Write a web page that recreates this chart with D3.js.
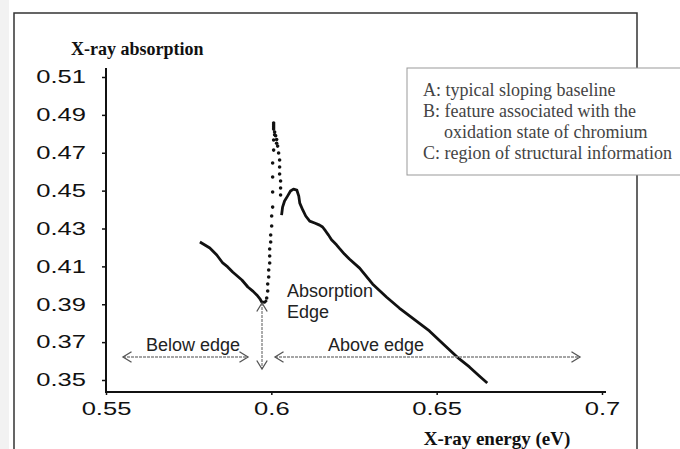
<!DOCTYPE html>
<html>
<head>
<meta charset="utf-8">
<script src="https://cdn.jsdelivr.net/npm/d3@7"></script>
<style>
  body { margin: 0; background: #fff; }
  svg { display: block; }
</style>
</head>
<body>
<div id="chart"></div>
<script>
// données (énergie en eV, absorption)
var xTicks = [0.55, 0.6, 0.65, 0.7];
var yTicks = [0.35, 0.37, 0.39, 0.41, 0.43, 0.45, 0.47, 0.49, 0.51];

// avant le seuil : ligne continue
var preEdgeE = [0.5784, 0.5814, 0.5835, 0.5853, 0.5868, 0.5883, 0.5897, 0.5911, 0.5929, 0.5945, 0.5956, 0.5965, 0.5971, 0.5980, 0.5986];
var preEdgeA = [0.4229, 0.4197, 0.4160, 0.4118, 0.4097, 0.4070, 0.4049, 0.4028, 0.3991, 0.3968, 0.3949, 0.3930, 0.3912, 0.3910, 0.3922];

// le seuil : points isolés
var edgeE = [0.5986, 0.5989, 0.5989, 0.5992, 0.5992, 0.5995, 0.5995, 0.5995, 0.5998, 0.5998, 0.6001, 0.6001, 0.6004, 0.6004, 0.6004, 0.6004, 0.6007, 0.6007,
             0.6007, 0.6007, 0.6007, 0.6007, 0.6010, 0.6010, 0.6013, 0.6016, 0.6016, 0.6019, 0.6022, 0.6025, 0.6025, 0.6025, 0.6028, 0.6028, 0.6028];
var edgeA = [0.3933, 0.3970, 0.4007, 0.4044, 0.4081, 0.4118, 0.4155, 0.4192, 0.4229, 0.4266, 0.4313, 0.4366, 0.4413, 0.4493, 0.4572, 0.4646, 0.4714, 0.4767,
             0.4857, 0.4846, 0.4836, 0.4825, 0.4809, 0.4795, 0.4790, 0.4770, 0.4750, 0.4735, 0.4699, 0.4662, 0.4625, 0.4588, 0.4551, 0.4514, 0.4477];

// après le seuil : ligne continue
var postEdgeE = [0.6031, 0.6034, 0.6040, 0.6049, 0.6058, 0.6067, 0.6077, 0.6083, 0.6086, 0.6095, 0.6104, 0.6116, 0.6131, 0.6146, 0.6155, 0.6164, 0.6173,
                 0.6182, 0.6197, 0.6206, 0.6221, 0.6236, 0.6267, 0.6306, 0.6348, 0.6387, 0.6427, 0.6478, 0.6523, 0.6562, 0.6599, 0.6629, 0.6653];
var postEdgeA = [0.4371, 0.4413, 0.4445, 0.4471, 0.4498, 0.4508, 0.4503, 0.4471, 0.4434, 0.4398, 0.4366, 0.4339, 0.4329, 0.4318, 0.4308, 0.4287, 0.4265,
                 0.4240, 0.4214, 0.4195, 0.4165, 0.4139, 0.4091, 0.4007, 0.3938, 0.3880, 0.3827, 0.3759, 0.3685, 0.3621, 0.3569, 0.3521, 0.3484];

var legendLines = ["A: typical sloping baseline", "B: feature associated with the", "oxidation state of chromium", "C: region of structural information"];

var width = 680,
    height = 449;

var svg = d3.select("#chart").append("svg")
    .attr("width", width)
    .attr("height", height);

// petite bande grise à gauche (scan)
svg.append("rect").attr("x", 0).attr("y", 0).attr("width", 9).attr("height", height).attr("fill", "#f2f2f2");

// cadre extérieur
svg.append("path")
    .attr("d", "M14,460 L14,13 L637,13 L637,460")
    .attr("fill", "none")
    .attr("stroke", "#333")
    .attr("stroke-width", 1.5);

var x = d3.scaleLinear().domain([0.55, 0.70]).range([106, 602]);
var y = d3.scaleLinear().domain([0.35, 0.51]).range([380, 77]);

// étire les textes horizontalement comme sur le scan
function stretch(sel, k) {
    sel.each(function() {
        var w = this.getComputedTextLength();
        this.setAttribute("textLength", w * k);
        this.setAttribute("lengthAdjust", "spacingAndGlyphs");
    });
}

// axe Y
var gy = svg.append("g")
    .attr("transform", "translate(106,0)")
    .call(d3.axisLeft(y).tickValues(yTicks).tickSize(4).tickPadding(16).tickFormat(d3.format(".2f")));
gy.select(".domain").remove();
gy.selectAll(".tick line").attr("stroke", "#111").attr("stroke-width", 1.5);
gy.selectAll(".tick text")
    .attr("fill", "#111")
    .style("font-family", "'Liberation Sans', Arial, sans-serif")
    .style("font-size", "18px")
    .call(stretch, 1.42);

// axe X
var gx = svg.append("g")
    .attr("transform", "translate(0,392)")
    .call(d3.axisBottom(x).tickValues(xTicks).tickSize(3).tickPadding(7).tickFormat(function(d) { return String(+d.toFixed(2)); }));
gx.select(".domain").remove();
gx.selectAll(".tick line").attr("stroke", "#111").attr("stroke-width", 1.5);
gx.selectAll(".tick text")
    .attr("fill", "#111")
    .style("font-family", "'Liberation Sans', Arial, sans-serif")
    .style("font-size", "18px")
    .call(stretch, 1.42);

// lignes des axes
svg.append("line").attr("x1", 106).attr("x2", 106).attr("y1", 68).attr("y2", 393)
    .attr("stroke", "#111").attr("stroke-width", 2);
svg.append("line").attr("x1", 105).attr("x2", 606).attr("y1", 392).attr("y2", 392)
    .attr("stroke", "#111").attr("stroke-width", 2);

// titres des axes
svg.append("text")
    .attr("x", 71).attr("y", 55)
    .style("font-family", "'Liberation Serif', 'Times New Roman', serif")
    .style("font-weight", "bold")
    .style("font-size", "18px")
    .attr("fill", "#111")
    .text("X-ray absorption");

svg.append("text")
    .attr("x", 497).attr("y", 445)
    .attr("text-anchor", "middle")
    .style("font-family", "'Liberation Serif', 'Times New Roman', serif")
    .style("font-weight", "bold")
    .style("font-size", "19px")
    .attr("fill", "#111")
    .text("X-ray energy (eV)");

// courbe
var line = d3.line()
    .x(function(d) { return x(d[0]); })
    .y(function(d) { return y(d[1]); });

var pre = d3.zip(preEdgeE, preEdgeA);
var post = d3.zip(postEdgeE, postEdgeA);
var edge = d3.zip(edgeE, edgeA);

[pre, post].forEach(function(seg) {
    svg.append("path")
        .datum(seg)
        .attr("d", line)
        .attr("fill", "none")
        .attr("stroke", "#111")
        .attr("stroke-width", 2.8)
        .attr("stroke-linejoin", "round");
});

svg.selectAll("circle.edge")
    .data(edge)
    .join("circle")
    .attr("class", "edge")
    .attr("cx", function(d) { return x(d[0]); })
    .attr("cy", function(d) { return y(d[1]); })
    .attr("r", 1.8)
    .attr("fill", "#111");

// flèches (pointillés gris)
function arrow(x1, y1, x2, y2) {
    svg.append("line")
        .attr("x1", x1).attr("y1", y1).attr("x2", x2).attr("y2", y2)
        .attr("stroke", "#888").attr("stroke-width", 1.4)
        .attr("stroke-dasharray", "3,1");
    [[x1, y1, x2, y2], [x2, y2, x1, y1]].forEach(function(p) {
        var a = Math.atan2(p[1] - p[3], p[0] - p[2]);
        var L = 10, s = 0.55;
        svg.append("path")
            .attr("d", "M" + (p[0] - L * Math.cos(a - s)) + "," + (p[1] - L * Math.sin(a - s)) +
                       "L" + p[0] + "," + p[1] +
                       "L" + (p[0] - L * Math.cos(a + s)) + "," + (p[1] - L * Math.sin(a + s)))
            .attr("fill", "none")
            .attr("stroke", "#555")
            .attr("stroke-width", 1.3);
    });
}

arrow(123, 357, 248, 357);
arrow(275, 357, 580, 357);
arrow(262, 303, 262, 369);

var sans = "'Liberation Sans', Arial, sans-serif";
function label(tx, ty, t) {
    svg.append("text")
        .attr("x", tx).attr("y", ty)
        .style("font-family", sans)
        .style("font-size", "18px")
        .attr("fill", "#222")
        .text(t);
}
label(146, 351, "Below edge");
label(328, 351, "Above edge");
label(287, 297, "Absorption");
label(287, 318, "Edge");

// boîte de légende
svg.append("rect")
    .attr("x", 407).attr("y", 68)
    .attr("width", 290).attr("height", 107)
    .attr("fill", "#fff")
    .attr("stroke", "#999")
    .attr("stroke-width", 1);

svg.selectAll("text.legend")
    .data(legendLines)
    .join("text")
    .attr("class", "legend")
    .attr("x", function(d, i) { return i == 2 ? 444 : 423; })
    .attr("y", function(d, i) { return 96 + i * 21; })
    .style("font-family", "'Liberation Serif', 'Times New Roman', serif")
    .style("font-size", "18px")
    .attr("fill", "#444")
    .text(function(d) { return d; });
</script>
</body>
</html>
